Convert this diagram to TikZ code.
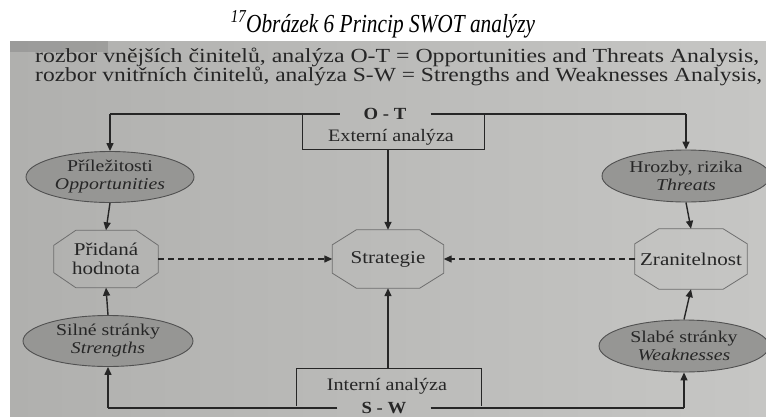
\documentclass[tikz,border=0pt]{standalone}
\usepackage{fontspec}
\setmainfont{Liberation Serif}
\usetikzlibrary{shapes.geometric,arrows.meta,calc}

\definecolor{bgL}{RGB}{176,176,174}
\definecolor{bgR}{RGB}{198,198,196}
\definecolor{ink}{RGB}{38,38,38}
\definecolor{ellfill}{RGB}{150,150,148}
\definecolor{ellline}{RGB}{80,80,80}
\definecolor{octline}{RGB}{110,110,110}

\newcommand{\ofont}{\fontsize{16.5}{18}\selectfont}
\newcommand{\cfont}{\fontsize{18}{19.5}\selectfont}
\newcommand{\bfont}{\fontsize{17.5}{19}\selectfont}
\newcommand{\wideO}[1]{\scalebox{1.2}[1]{#1}}
\newcommand{\wideC}[1]{\scalebox{1.17}[1]{#1}}
\newcommand{\wideB}[1]{\scalebox{1.15}[1]{#1}}

% octagon outline drawn around a named rectangular node
\newcommand{\octoframe}[3]{%
  \draw[draw=octline, line width=0.8pt]
    ($(#1.north west)+(#2,0)$) -- ($(#1.north east)+(-#2,0)$) --
    ($(#1.north east)+(0,#3)$) -- ($(#1.south east)+(0,-#3)$) --
    ($(#1.south east)+(-#2,0)$) -- ($(#1.south west)+(#2,0)$) --
    ($(#1.south west)+(0,-#3)$) -- ($(#1.north west)+(0,#3)$) -- cycle;}

\tikzset{
  conn/.style={draw=ink, line width=1.4pt},
  arr/.style={conn, -{Triangle[length=8pt,width=7pt]}},
  darr/.style={draw=ink, line width=1.3pt, dash pattern=on 6pt off 4pt, -{Triangle[length=8pt,width=7pt]}},
  oval/.style={ellipse, draw=ellline, fill=ellfill, line width=0.9pt, inner sep=0pt,
    minimum width=168pt, minimum height=51pt, align=center, font=\ofont, text=ink},
  octo/.style={rectangle, inner sep=0pt, align=center, font=\cfont, text=ink},
  framebox/.style={inner sep=0pt},
  tag/.style={font=\fontsize{17}{18}\selectfont\bfseries, text=ink, inner xsep=24pt, inner ysep=1pt},
  plain/.style={font=\bfont, text=ink, inner sep=0pt}
}

\begin{document}
\begin{tikzpicture}[x=1pt,y=-1pt]
\useasboundingbox (0,0) rectangle (766,416);
\fill[white] (0,0) rectangle (766,416);
% photographed page
\shade[left color=bgL, right color=bgR] (10,41) rectangle (766,416);
\fill[gray!75!black, opacity=0.25] (10,41) rectangle (108,52);

% caption and explanation lines
\node[anchor=base, inner sep=0pt] (title) at (383,32)
  {\fontsize{26}{26}\selectfont\itshape\scalebox{0.82}[1]{\textsuperscript{17}Obrázek 6 Princip SWOT analýzy}};
\node[anchor=base west, inner sep=0pt, text=ink] (line1) at (35,62)
  {\resizebox{724pt}{\height}{\fontsize{20}{20}\selectfont rozbor vnějších činitelů, analýza O-T = Opportunities and Threats Analysis,}};
\node[anchor=base west, inner sep=0pt, text=ink] (line2) at (35,81)
  {\resizebox{727pt}{\height}{\fontsize{20}{20}\selectfont rozbor vnitřních činitelů, analýza S-W = Strengths and Weaknesses Analysis,}};

% external analysis
\node[tag] (ot) at (385,114) {\scalebox{1.1}[1]{O - T}};
\node[framebox, minimum width=181pt, minimum height=34pt] (ext) at (393.5,132) {};
\node[plain] (extlbl) at (391,137) {\wideB{Externí analýza}};

% internal analysis
\node[tag] (sw) at (384,408) {\scalebox{1.1}[1]{S - W}};
\node[framebox, minimum width=184pt, minimum height=37pt] (int) at (389,387.5) {};
\node[plain] (intlbl) at (387,386) {\wideB{Interní analýza}};

% ellipses
\node[oval] (opp) at (110,177) {\wideO{Příležitosti}\\\wideO{\itshape Opportunities}};
\node[oval, minimum height=52pt] (thr) at (686,176) {\wideO{Hrozby, rizika}\\\wideO{\itshape Threats}};
\node[oval, minimum width=170pt] (str) at (108,341) {\wideO{Silné stránky}\\\wideO{\itshape Strengths}};
\node[oval, minimum width=170pt, minimum height=52pt] (wea) at (684,346) {\wideO{Slabé stránky}\\\wideO{\itshape Weaknesses}};

% octagons
\node[octo, minimum width=104pt, minimum height=57pt] (add) at (106,259) {\wideC{Přidaná}\\\wideC{hodnota}};
\node[octo, minimum width=111pt, minimum height=58pt] (strat) at (388,259) {\wideC{Strategie}};
\node[octo, minimum width=112pt, minimum height=60pt] (vul) at (691,259) {\wideC{Zranitelnost}};
\octoframe{add}{22}{15}
\octoframe{strat}{24}{15}
\octoframe{vul}{24}{15}

% corners of the branching lines
\coordinate (tl) at (opp |- ot);
\coordinate (tr) at (thr |- ot);
\coordinate (bl) at (str |- sw);
\coordinate (br) at (wea |- sw);

% frames around the two analysis labels (top/bottom edges come from the lines)
\draw[draw=ink, line width=1pt] (ext.north west) -- (ext.south west) -- (ext.south east) -- (ext.north east);
\draw[draw=ink, line width=1pt] (int.south west) -- (int.north west) -- (int.north east) -- (int.south east);

% O-T branch
\draw[conn] (ot.west) -- (tl);
\draw[conn] (ot.east) -- (tr);
\draw[arr] (tl) -- (opp.north);
\draw[arr] (tr) -- (thr.north);
\draw[arr] (opp.south) -- (add.north);
\draw[arr] (thr.south) -- (vul.north);
\draw[arr] (ext.south -| strat) -- (strat.north);

% S-W branch
\draw[conn] (sw.west) -- (bl);
\draw[conn] (sw.east) -- (br);
\draw[arr] (bl) -- (str.south);
\draw[arr] (br) -- (wea.south);
\draw[arr] (str.north) -- (add.south);
\draw[arr] (wea.north) -- (vul.south);
\draw[arr] (int.north -| strat) -- (strat.south);

% toward the strategy
\draw[darr] (add.east) -- (strat.west);
\draw[darr] (vul.west) -- (strat.east);
\end{tikzpicture}
\end{document}
